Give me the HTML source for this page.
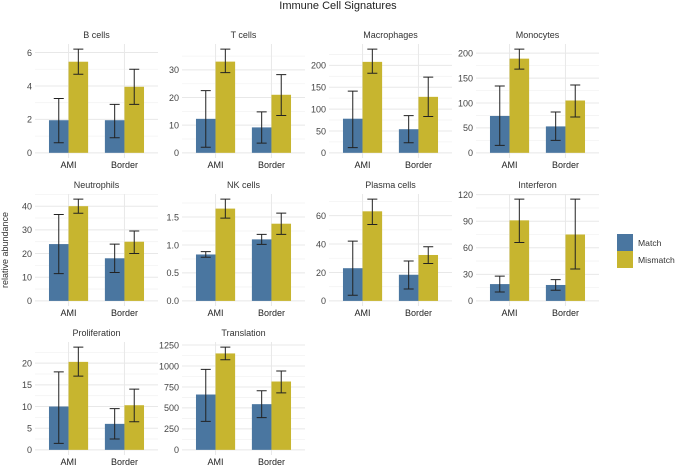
<!DOCTYPE html>
<html><head><meta charset="utf-8"><style>
body{margin:0;background:#fff;font-family:"Liberation Sans",sans-serif;}
svg text{font-family:"Liberation Sans",sans-serif;}
</style></head><body>
<svg id="c" width="676" height="468">
<text x="338" y="9" text-anchor="middle" font-size="11" fill="#222">Immune Cell Signatures</text>
<text transform="translate(8,250) rotate(-90)" text-anchor="middle" font-size="9" fill="#333">relative abundance</text>
<g>
<rect x="617" y="234" width="16" height="17" fill="#4a76a0"/>
<rect x="617" y="251" width="16" height="17" fill="#c7b52f"/>
<text x="638" y="246" font-size="8.6" fill="#333">Match</text>
<text x="638" y="263" font-size="8.6" fill="#333">Mismatch</text>
</g>
</svg>
<script>
const panelNames=["B cells","T cells","Macrophages","Monocytes","Neutrophils","NK cells","Plasma cells","Interferon","Proliferation","Translation"];
const categories=["AMI","Border"];
const matchVals=[[1.95,1.95],[12.3,9.2],[78,54],[74,53],[24,18],[0.83,1.1],[23,18.4],[19,18],[10,6],[660,545]];
const matchLo=[[0.6,0.9],[2,3.5],[12,23],[15,25],[11.5,12],[0.78,1.01],[4,8.4],[10,12],[1.5,2.5],[340,385]];
const matchHi=[[3.25,2.9],[22.5,14.8],[141,85],[134,82],[36.5,24],[0.88,1.19],[42,28.1],[28,24],[18,9.5],[960,705]];
const misVals=[[5.45,3.95],[33,21],[208,128],[189,105],[40,25],[1.65,1.38],[63,32.3],[91,75],[20.3,10.3],[1150,815]];
const misLo=[[4.7,2.9],[29,13.5],[182,83],[168,72],[37,20],[1.48,1.19],[53.7,26.3],[66,36],[17,6.5],[1075,680]];
const misHi=[[6.2,5.0],[37.5,28.3],[237,173],[208,136],[43,29.5],[1.82,1.57],[71.6,38.1],[115,115],[23.7,14],[1225,940]];
const tickLabels=[["0","2","4","6"],["0","10","20","30"],["0","50","100","150","200"],["0","50","100","150","200"],["0","10","20","30","40"],["0.0","0.5","1.0","1.5"],["0","20","40","60"],["0","30","60","90","120"],["0","5","10","15","20"],["0","250","500","750","1000","1250"]];

const NS="http://www.w3.org/2000/svg";
const svg=document.getElementById('c');
const colX=[35,182,329,476],PW=123;
const rowY=[[44,158],[194,306],[342,455]];
function mk(t,a,p){const e=document.createElementNS(NS,t);for(const k in a)e.setAttribute(k,a[k]);(p||svg).appendChild(e);return e;}
panelNames.forEach((name,i)=>{
  const r=Math.floor(i/4),c=i%4;
  const x0=colX[c],x1=x0+PW,top=rowY[r][0],bot=rowY[r][1];
  const g=mk('g',{});
  
  
  let mx=0;[matchHi[i],misHi[i]].forEach(a=>a.forEach(v=>{if(v>mx)mx=v;}));
  const lo=-0.05*mx,hi=1.05*mx;
  const y=v=>bot-(v-lo)/(hi-lo)*(bot-top);
  const xs=k=>x0+(k+1-0.4)/2.2*PW;
  const ticks=tickLabels[i].map(Number);
  const step=ticks[1]-ticks[0];
  for(let k=-1;k<ticks.length+1;k++){const v=ticks[0]+step*(k+0.5);if(v<lo||v>hi)continue;
    mk('line',{x1:x0,x2:x1,y1:y(v),y2:y(v),stroke:'#f3f3f3','stroke-width':0.8},g);}
  ticks.forEach((v,k)=>{
    mk('line',{x1:x0,x2:x1,y1:y(v),y2:y(v),stroke:'#e8e8e8','stroke-width':1},g);
    const t=mk('text',{x:x0-3,y:y(v)+3.3,'text-anchor':'end','font-size':9,fill:'#444'},g);
    t.textContent=tickLabels[i][k];
    
    
  });
  categories.forEach((cat,k)=>{
    mk('line',{x1:xs(k),x2:xs(k),y1:top,y2:bot,stroke:'#e8e8e8','stroke-width':1},g);
    const t=mk('text',{x:xs(k),y:bot+10,'text-anchor':'middle','font-size':9,fill:'#222'},g);
    t.textContent=cat;
    
    
  });
  const t=mk('text',{x:(x0+x1)/2,y:top-6,'text-anchor':'middle','font-size':9,fill:'#333'},g);
  t.textContent=name;
  
  
  const bw=0.35/2.2*PW;
  categories.forEach((cat,k)=>{
    [[matchVals,matchLo,matchHi,'#4a76a0',-1],[misVals,misLo,misHi,'#c7b52f',0]].forEach(([V,L,H,col,off])=>{
      const bx=xs(k)+off*bw,v=V[i][k];
      const b=mk('rect',{x:bx,y:y(v),width:bw,height:y(0)-y(v),fill:col},g);
      
      
      const cx=bx+bw/2,yl=y(L[i][k]),yh=y(H[i][k]);
      const e=mk('path',{d:`M${cx-5},${yh}H${cx+5}M${cx},${yh}V${yl}M${cx-5},${yl}H${cx+5}`,stroke:'#222','stroke-width':1,fill:'none'},g);
      
      
    });
  });
});
</script>
</body></html>
